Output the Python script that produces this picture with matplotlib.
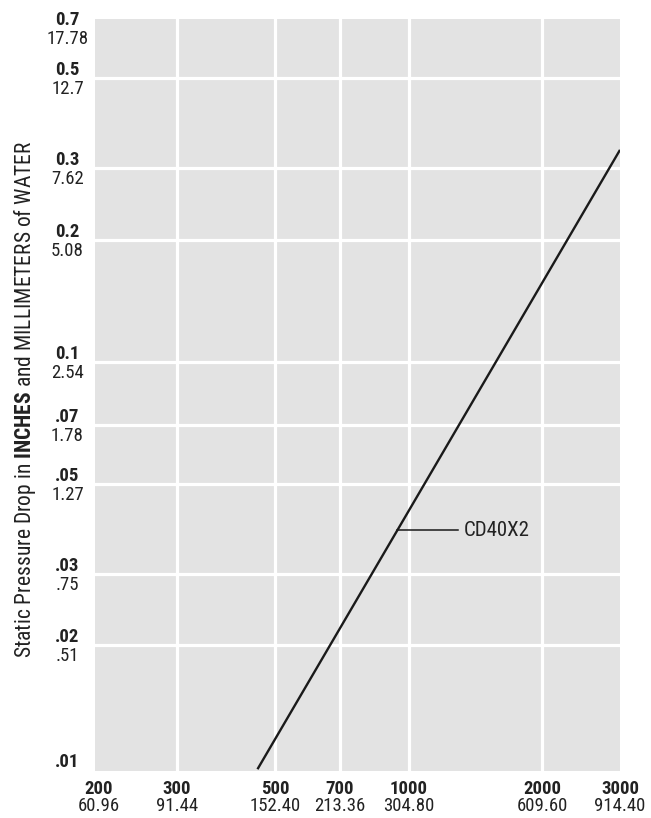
import matplotlib
matplotlib.use("Agg")
import matplotlib.pyplot as plt
import matplotlib.transforms as mtransforms
from matplotlib import font_manager

names = {f.name for f in font_manager.fontManager.ttflist}
FONT = "DejaVu Sans"
for cand in ["Roboto Condensed", "Archivo Narrow", "PT Sans Narrow", "Liberation Sans Narrow",
             "IBM Plex Sans Condensed", "Encode Sans Condensed", "Barlow Condensed",
             "Open Sans Condensed", "Liberation Sans"]:
    if cand in names:
        FONT = cand
        break
plt.rcParams['font.family'] = [FONT, 'DejaVu Sans']
plt.rcParams['mathtext.fontset'] = 'custom'
plt.rcParams['mathtext.rm'] = FONT
plt.rcParams['mathtext.bf'] = FONT + ':bold'

# Data
x_ticks = [200, 300, 500, 700, 1000, 2000, 3000]
x_bold = ["200", "300", "500", "700", "1000", "2000", "3000"]
x_sub = ["60.96", "91.44", "152.40", "213.36", "304.80", "609.60", "914.40"]
y_ticks = [0.7, 0.5, 0.3, 0.2, 0.1, 0.07, 0.05, 0.03, 0.02, 0.01]
y_bold = ["0.7", "0.5", "0.3", "0.2", "0.1", ".07", ".05", ".03", ".02", ".01"]
y_sub = ["17.78", "12.7", "7.62", "5.08", "2.54", "1.78", "1.27", ".75", ".51", ""]
line_x = [456, 3000]
line_y = [0.0099, 0.333]
label_name = "CD40X2"
label_at = (942, 0.0384)
label_end_x = 1290
label_text_x = 1335

FS = 13.5
fig = plt.figure(figsize=(6.51, 8.18), dpi=100)
ax = fig.add_axes([95/651, 1-771/818, (620-95)/651, (771-19)/818])
ax.set_xscale('log')
ax.set_yscale('log')
ax.set_xlim(196, 3000)
ax.set_ylim(0.0098, 0.7)
ax.set_facecolor('#e3e3e3')
for s in ax.spines.values():
    s.set_visible(False)
ax.set_xticks(x_ticks)
ax.set_yticks(y_ticks)
ax.minorticks_off()
ax.tick_params(length=0, labelbottom=False, labelleft=False)
ax.grid(True, color='white', linewidth=2.3)
ax.set_axisbelow(True)
# edge gridlines are not visible in the reference
fig.canvas.draw()
xg = ax.get_xgridlines()
yg = ax.get_ygridlines()
xg[0].set_visible(False)
xg[-1].set_visible(False)
yg[0].set_visible(False)
yg[-1].set_visible(False)

ax.plot(line_x, line_y, color='#1a1a1a', linewidth=1.7, solid_capstyle='butt')
ax.plot([label_at[0], label_end_x], [label_at[1], label_at[1]], color='#1a1a1a', linewidth=1.1)
ax.text(label_text_x, label_at[1], label_name, fontsize=15, va='center', ha='left', color='#222222')

# y tick labels
ty = mtransforms.blended_transform_factory(fig.transFigure, ax.transData)
top = max(y_ticks)
bottom = min(y_ticks)
for v, b, s in zip(y_ticks, y_bold, y_sub):
    shift = -9 if v == top else (-3 if v == bottom else 0)
    t1 = ty + mtransforms.ScaledTranslation(0, (8 + shift)/100, fig.dpi_scale_trans)
    ax.text(67.5/651, v, b, transform=t1, ha='center', va='center', fontsize=FS, fontweight='bold', color='#222222')
    if s:
        t2 = ty + mtransforms.ScaledTranslation(0, (-11 + shift)/100, fig.dpi_scale_trans)
        ax.text(67.5/651, v, s, transform=t2, ha='center', va='center', fontsize=FS, color='#222222')

# x tick labels
tx = mtransforms.blended_transform_factory(ax.transData, fig.transFigure)
for v, b, s in zip(x_ticks, x_bold, x_sub):
    ax.text(v, 1-789/818, b, transform=tx, ha='center', va='center', fontsize=FS, fontweight='bold', color='#222222')
    ax.text(v, 1-806/818, s, transform=tx, ha='center', va='center', fontsize=FS, color='#222222')

fig.text(25/651, 1-399/818, r"Static Pressure Drop in $\mathbf{INCHES}$ and MILLIMETERS of WATER",
         rotation=90, ha='center', va='center', fontsize=15.5, color='#222222')

fig.savefig('out.png', dpi=100)
